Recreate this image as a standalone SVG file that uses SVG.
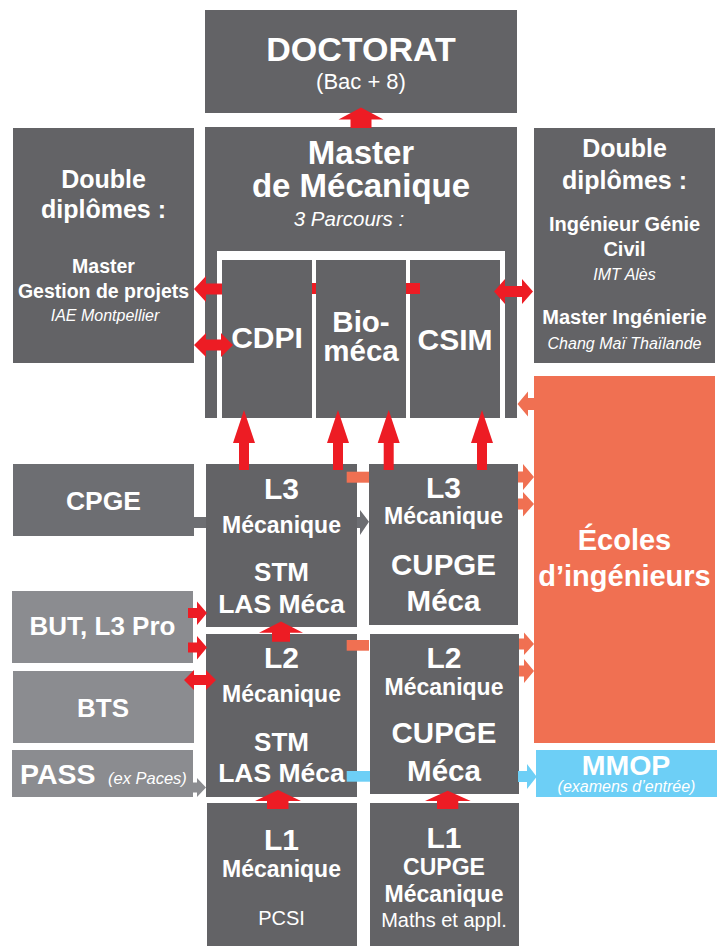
<svg xmlns="http://www.w3.org/2000/svg" width="724" height="946" viewBox="0 0 724 946">
<style>
.g{fill:#636366}
.c{fill:#6d6e72}
.l{fill:#8b8c90}
.o{fill:#f07052}
.b{fill:#6dcff6}
.r{fill:#ed1c24}
.w{fill:#ffffff}
text{font-family:"Liberation Sans",Arial,Helvetica,sans-serif;fill:#ffffff;text-anchor:middle}
.bd{font-weight:bold}
.it{font-style:italic}
</style>
<rect width="724" height="946" fill="#ffffff"/>
<g id="nodes">
<g id="doctorat">
<rect class="g" x="205" y="10" width="312" height="103"/>
<text class="bd" x="361" y="60.5" font-size="34">DOCTORAT</text>
<text x="361" y="89" font-size="22">(Bac + 8)</text>
</g>
<g id="master">
<rect class="g" x="205" y="127" width="312" height="291"/>
<text class="bd" x="361" y="164" font-size="33">Master</text>
<text class="bd" x="361" y="197" font-size="33">de Mécanique</text>
<text class="it" x="349" y="226" font-size="20.5">3 Parcours :</text>
<rect class="w" x="217" y="251" width="288" height="167"/>
</g>
<g id="cdpi">
<rect class="g" x="222" y="260" width="90" height="158"/>
<text class="bd" x="267" y="348" font-size="30">CDPI</text>
</g>
<g id="biomeca">
<rect class="g" x="316" y="260" width="90" height="158"/>
<text class="bd" x="361" y="332" font-size="29.5">Bio-</text>
<text class="bd" x="361" y="361" font-size="29.5">méca</text>
</g>
<g id="csim">
<rect class="g" x="410" y="260" width="90" height="158"/>
<text class="bd" x="455" y="350" font-size="30">CSIM</text>
</g>
<g id="double-left">
<rect class="g" x="13" y="128" width="181" height="235"/>
<text class="bd" x="103.5" y="188" font-size="25">Double</text>
<text class="bd" x="103.5" y="218" font-size="25">diplômes :</text>
<text class="bd" x="103.5" y="273" font-size="19.5">Master</text>
<text class="bd" x="103.5" y="298" font-size="19.5">Gestion de projets</text>
<text class="it" x="105" y="321" font-size="16">IAE Montpellier</text>
</g>
<g id="double-right">
<rect class="g" x="534" y="128" width="181" height="235"/>
<text class="bd" x="624.5" y="157" font-size="25">Double</text>
<text class="bd" x="624.5" y="189" font-size="25">diplômes :</text>
<text class="bd" x="624.5" y="231" font-size="20">Ingénieur Génie</text>
<text class="bd" x="624.5" y="256" font-size="20">Civil</text>
<text class="it" x="624.5" y="280" font-size="16">IMT Alès</text>
<text class="bd" x="624.5" y="324" font-size="20">Master Ingénierie</text>
<text class="it" x="624.5" y="349" font-size="16">Chang Maï Thaïlande</text>
</g>
<g id="ecoles">
<rect class="o" x="534" y="376" width="181" height="367"/>
<text class="bd" x="624.5" y="550" font-size="29">Écoles</text>
<text class="bd" x="624.5" y="586" font-size="29">d’ingénieurs</text>
</g>
<g id="mmop">
<rect class="b" x="536" y="750" width="181" height="47"/>
<text class="bd" x="626" y="775" font-size="28.5">MMOP</text>
<text class="it" x="626.5" y="792" font-size="16">(examens d’entrée)</text>
</g>
<g id="cpge">
<rect class="c" x="13" y="464" width="181" height="72"/>
<text class="bd" x="103.5" y="510" font-size="26.5">CPGE</text>
</g>
<g id="but">
<rect class="l" x="12" y="591" width="181" height="72"/>
<text class="bd" x="102.5" y="635" font-size="26">BUT, L3 Pro</text>
</g>
<g id="bts">
<rect class="l" x="13" y="671" width="181" height="72"/>
<text class="bd" x="103" y="717" font-size="26">BTS</text>
</g>
<g id="pass">
<rect class="l" x="12" y="750" width="181" height="47"/>
<text class="bd" x="20" y="784" font-size="28.5" style="text-anchor:start">PASS</text>
<text class="it" x="108" y="784" font-size="16.5" style="text-anchor:start">(ex Paces)</text>
</g>
<g id="l3-stm">
<rect class="g" x="206" y="464" width="151" height="163"/>
<text class="bd" x="281.5" y="499" font-size="30">L3</text>
<text class="bd" x="281.5" y="533" font-size="23">Mécanique</text>
<text class="bd" x="281.5" y="581" font-size="26">STM</text>
<text class="bd" x="281.5" y="613" font-size="26.5">LAS Méca</text>
</g>
<g id="l2-stm">
<rect class="g" x="206" y="634" width="151" height="163"/>
<text class="bd" x="281.5" y="668" font-size="30">L2</text>
<text class="bd" x="281.5" y="702" font-size="23">Mécanique</text>
<text class="bd" x="281.5" y="751" font-size="26">STM</text>
<text class="bd" x="281.5" y="782" font-size="26.5">LAS Méca</text>
</g>
<g id="l1-pcsi">
<rect class="g" x="207" y="803" width="150" height="143"/>
<text class="bd" x="281.5" y="850" font-size="30">L1</text>
<text class="bd" x="281.5" y="877" font-size="23">Mécanique</text>
<text x="281.5" y="925" font-size="20">PCSI</text>
</g>
<g id="l3-cupge">
<rect class="g" x="369" y="464" width="149" height="161"/>
<text class="bd" x="443.5" y="498" font-size="30">L3</text>
<text class="bd" x="443.5" y="524" font-size="23">Mécanique</text>
<text class="bd" x="443.5" y="575" font-size="29.5">CUPGE</text>
<text class="bd" x="443.5" y="611" font-size="29.5">Méca</text>
</g>
<g id="l2-cupge">
<rect class="g" x="370" y="634" width="149" height="160"/>
<text class="bd" x="444" y="668" font-size="30">L2</text>
<text class="bd" x="444" y="695" font-size="23">Mécanique</text>
<text class="bd" x="444" y="743" font-size="29.5">CUPGE</text>
<text class="bd" x="444" y="781" font-size="29.5">Méca</text>
</g>
<g id="l1-cupge">
<rect class="g" x="370" y="803" width="149" height="143"/>
<text class="bd" x="444" y="848" font-size="30">L1</text>
<text class="bd" x="444" y="875" font-size="23">CUPGE</text>
<text class="bd" x="444" y="902" font-size="23">Mécanique</text>
<text x="444" y="927" font-size="20">Maths et appl.</text>
</g>
</g>
<g id="connectors">
<polygon class="r" points="361,107.5 383.5,119.5 371.5,119.5 371.5,128 350.5,128 350.5,119.5 338.5,119.5"/>
<polygon class="r" points="194,289 206,276 206,283.5 222,283.5 222,294.5 206,294.5 206,302"/>
<polygon class="r" points="194,345 206,333 206,339.5 221,339.5 221,333 233,345 221,357 221,350.5 206,350.5 206,357"/>
<rect class="r" x="312" y="283" width="4" height="11"/>
<rect class="r" x="406" y="283" width="14" height="11"/>
<polygon class="r" points="494,291.5 505,279 505,286 522,286 522,279 533,291.5 522,304 522,297 505,297 505,304"/>
<polygon class="o" points="517.5,404 528,391.5 528,398 534,398 534,410 528,410 528,416.5"/>
<polygon class="r" points="244,410 255,443 249,443 249,470 239,470 239,443 233,443"/>
<polygon class="r" points="338,410 349,443 343,443 343,470 333,470 333,443 327,443"/>
<polygon class="r" points="388.7,410 399.7,443 393.7,443 393.7,470 383.7,470 383.7,443 377.7,443"/>
<polygon class="r" points="482,410 493,443 487,443 487,470 477,470 477,443 471,443"/>
<rect class="o" x="346.7" y="471.7" width="22.3" height="11"/>
<rect class="o" x="346.7" y="640" width="22.3" height="10.7"/>
<rect class="c" x="194" y="517" width="12" height="11"/>
<polygon class="c" points="357,517 360,517 360,510 369,521.7 360,535 360,528 357,528"/>
<polygon class="o" points="518,471.5 523,471.5 523,464 534,477 523,490 523,482.5 518,482.5"/>
<polygon class="o" points="518,498.5 523,498.5 523,492 534,504 523,516.5 523,509.5 518,509.5"/>
<polygon class="o" points="519,638.5 524,638.5 524,632.5 534,644 524,655 524,649.5 519,649.5"/>
<polygon class="o" points="519,665.5 524,665.5 524,659 534,671 524,683 524,676.5 519,676.5"/>
<polygon class="r" points="188,608 197,608 197,601.5 207,613 197,625 197,618 188,618"/>
<polygon class="r" points="188,642.5 197,642.5 197,636 207,647.5 197,659.5 197,652.5 188,652.5"/>
<polygon class="r" points="281,621.5 303,632.7 290,632.7 290,641.7 272,641.7 272,632.7 259,632.7"/>
<polygon class="r" points="184,680 194,670 194,675 206,675 206,670 216,680 206,690 206,685 194,685 194,690"/>
<polygon class="l" points="193,782.5 197,782.5 197,778 206,787.5 197,797 197,792.5 193,792.5"/>
<rect class="b" x="346.7" y="771" width="23.3" height="10.7"/>
<polygon class="b" points="518,771 527,771 527,764 536.7,776.7 527,789 527,782 518,782"/>
<polygon class="r" points="278,790 301,801 288.5,801 288.5,809 267,809 267,801 255,801"/>
<polygon class="r" points="447.7,790.7 470.7,801 458.3,801 458.3,809 437,809 437,801 425,801"/>
</g>
</svg>
